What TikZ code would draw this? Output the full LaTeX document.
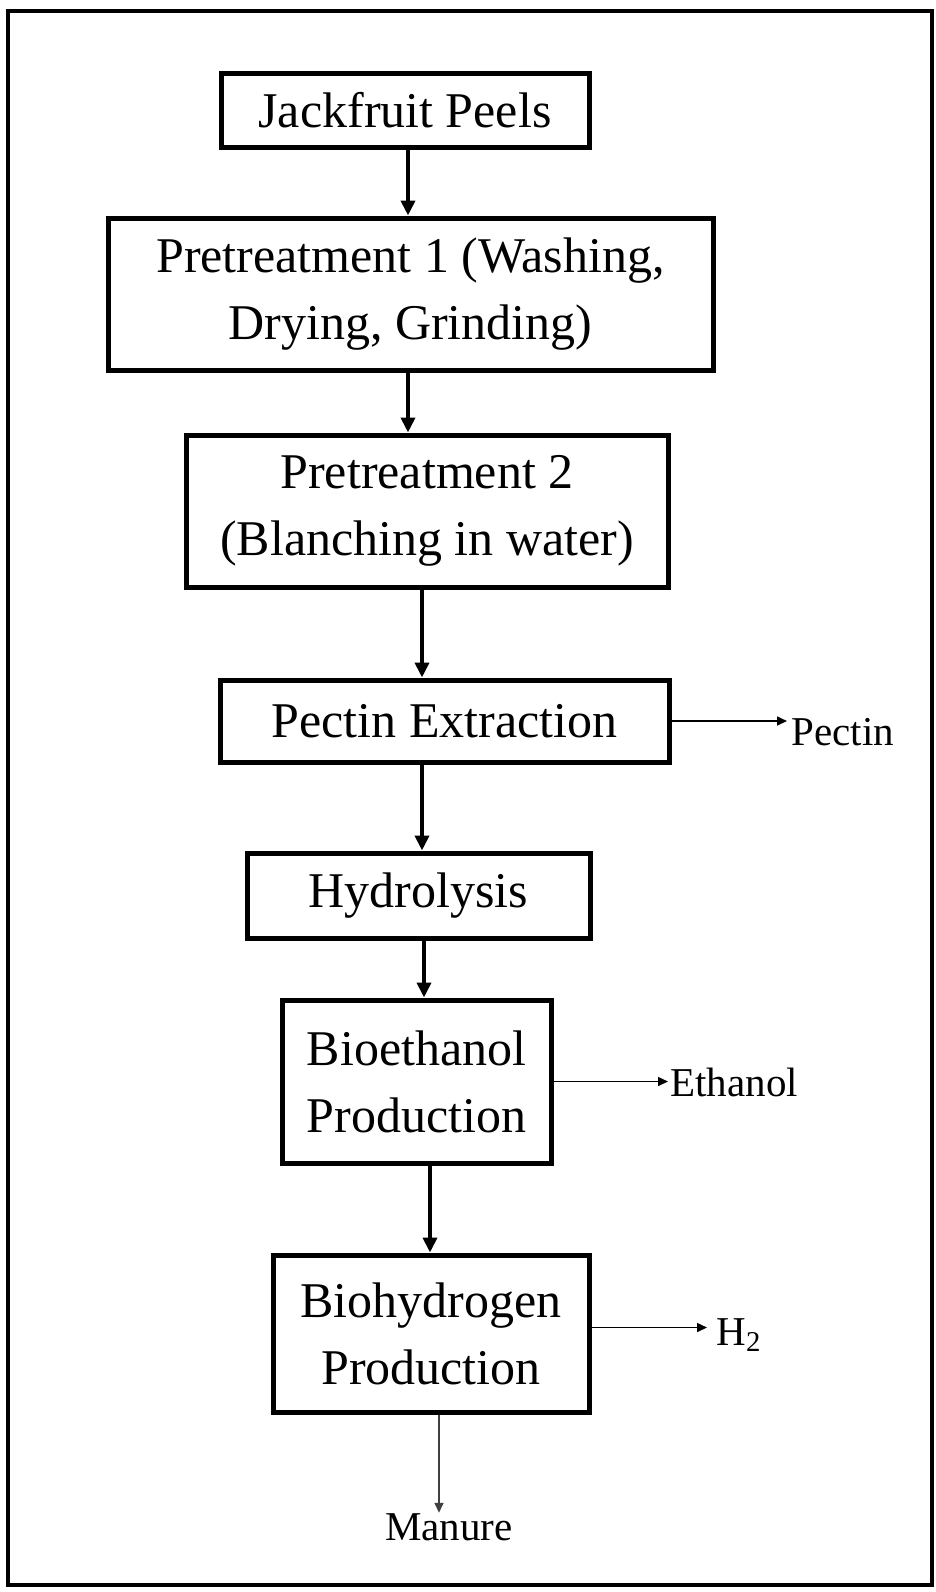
\documentclass[tikz,border=0pt]{standalone}
\usepackage{fontspec}
\setmainfont{Liberation Serif}
\usepackage{tikz}
\usetikzlibrary{arrows.meta}

\begin{document}
\begin{tikzpicture}[x=0.5pt,y=-0.5pt,
  box/.style={draw,line width=2.5pt,align=center,inner sep=0pt,
    font=\fontsize{25}{33.5}\selectfont},
  flow/.style={line width=2pt,-{Triangle[length=7.5pt,width=7pt]}},
  side/.style={line width=0.8pt,-{Triangle[length=5pt,width=4.5pt]}},
  outlbl/.style={inner sep=0pt,font=\fontsize{20.5}{24}\selectfont}]
\useasboundingbox (0,0) rectangle (936,1592);
\draw[line width=2pt] (8,11) rectangle (932,1585);

\node[box,minimum width=184pt,minimum height=37pt] (jack) at (405,110) {Jackfruit Peels};
\node[box,minimum width=302.5pt,minimum height=76pt] (pre1) at (410.5,294) {Pretreatment 1 (Washing,\\Drying, Grinding)};
\node[box,minimum width=241pt,minimum height=76pt] (pre2) at (427,511) {Pretreatment 2\\(Blanching in water)};
\node[box,minimum width=224.5pt,minimum height=41pt] (pect) at (444.5,721) {Pectin Extraction};
\node[box,minimum width=171.5pt,minimum height=42.5pt] (hydro) at (418.5,895.5) {Hydrolysis};
\node[box,minimum width=134.5pt,minimum height=81.5pt] (bioeth) at (416.5,1081.5) {Bioethanol\\Production};
\node[box,minimum width=158pt,minimum height=78.5pt] (biohyd) at (431,1333.5) {Biohydrogen\\Production};

\node[outlbl,anchor=base west] (pectin) at (791,745) {Pectin};
\node[outlbl,anchor=base west] (ethanol) at (670,1096) {Ethanol};
\node[outlbl,anchor=base west] (htwo) at (716,1345) {H\textsubscript{2}};
\node[outlbl,anchor=base] (manure) at (449,1540) {Manure};

\draw[flow] ([xshift=1.5pt]jack.south) -- ([xshift=1.5pt]jack.south |- pre1.north);
\draw[flow] ([xshift=-1.25pt]pre1.south) -- ([xshift=-1.25pt]pre1.south |- pre2.north);
\draw[flow] ([xshift=-2.5pt]pre2.south) -- ([xshift=-2.5pt]pre2.south |- pect.north);
\draw[flow] ([xshift=-11.25pt]pect.south) -- ([xshift=-11.25pt]pect.south |- hydro.north);
\draw[flow] ([xshift=2.75pt]hydro.south) -- ([xshift=2.75pt]hydro.south |- bioeth.north);
\draw[flow] ([xshift=6.75pt]bioeth.south) -- ([xshift=6.75pt]bioeth.south |- biohyd.north);

\draw[side] (pect.east) -- ([xshift=-2pt]pect.east -| pectin.west);
\draw[side] (bioeth.east) -- ([xshift=-1pt]bioeth.east -| ethanol.west);
\draw[side] ([yshift=3pt]biohyd.east) -- ([yshift=3pt,xshift=-4.5pt]biohyd.east -| htwo.west);
\draw[side,black!75] ([xshift=4pt]biohyd.south) -- ([xshift=4pt]biohyd.south |- manure.north);
\end{tikzpicture}
\end{document}
